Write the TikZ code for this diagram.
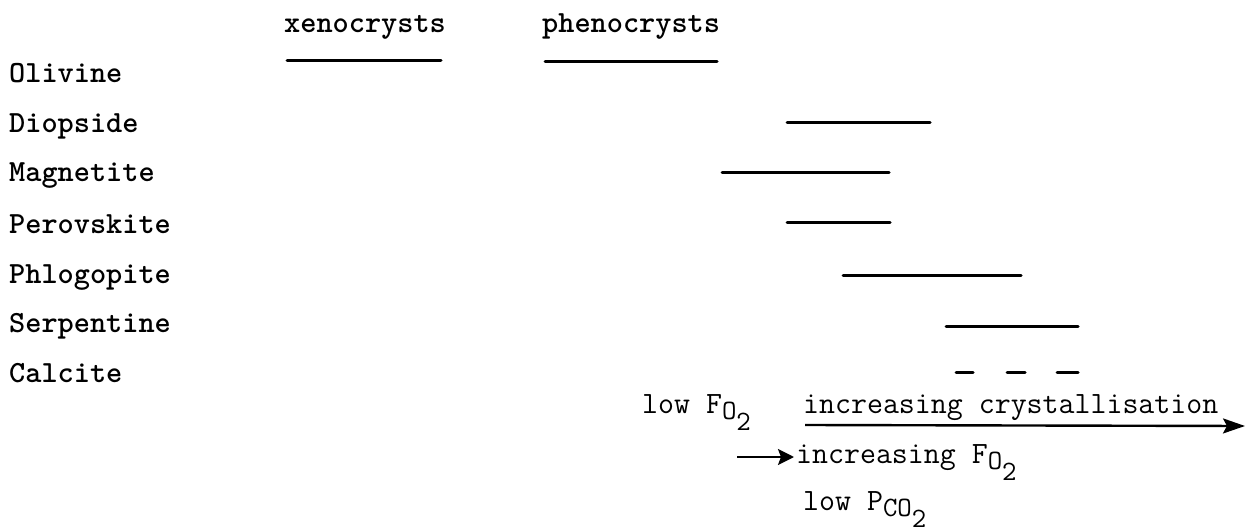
\documentclass[tikz,border=0pt]{standalone}
\usepackage{fontspec}
\newfontfamily\monobold{lmmonolt10-bold.otf}
\usetikzlibrary{arrows.meta}
\newcommand{\chemsub}[2]{\raisebox{-6pt}{{\fontsize{28}{30}\selectfont #1}\raisebox{-11pt}{{\fontsize{28}{30}\selectfont #2}}}}
\tikzset{
  label/.style={anchor=base west, inner sep=0pt, font=\monobold\fontsize{30.8}{33}\selectfont},
  note/.style={anchor=base west, inner sep=0pt, font=\ttfamily\fontsize{31}{33}\selectfont},
  bar/.style={line width=3pt, line cap=round},
  flow/.style={line width=2.4pt, -{Stealth[length=22pt,width=15pt,inset=4pt]}},
  smallflow/.style={line width=2.4pt, -{Stealth[length=16pt,width=16pt,inset=3pt]}}
}
\begin{document}
\begin{tikzpicture}[x=1pt,y=-1pt]
\useasboundingbox (0,0) rectangle (1245,532);
% column headings
\node[label] (xeno) at (284,33) {xenocrysts};
\node[label] (pheno) at (542,33) {phenocrysts};
% minerals
\node[label] (ol) at (9,83) {Olivine};
\node[label] (di) at (9,132) {Diopside};
\node[label] (mt) at (9,182) {Magnetite};
\node[label] (pv) at (9,233) {Perovskite};
\node[label] (ph) at (9,283) {Phlogopite};
\node[label] (sp) at (9,332) {Serpentine};
\node[label] (cc) at (9,382) {Calcite};
% bars
\draw[bar] (287,61) -- (441,61);
\draw[bar] (545,62) -- (717,62);
\draw[bar] (787,123) -- (930,123);
\draw[bar] (722,172) -- (889,172);
\draw[bar] (787,222) -- (890,222);
\draw[bar] (843,275) -- (1021,275);
\draw[bar] (946,326) -- (1078,326);
\draw[bar] (956,372) -- (973,372);
\draw[bar] (1007,372) -- (1025,372);
\draw[bar] (1057,372) -- (1078,372);
% bottom notes
\node[note] (lowfo) at (642,413) {low F\chemsub{O}{2}};
\node[note] (cryst) at (803,413) {increasing crystallisation};
\node[note] (incfo) at (796,463) {increasing F\chemsub{O}{2}};
\node[note] (lowp) at (803,510) {low P\chemsub{CO}{2}};
\coordinate (a1) at (805,425);
\coordinate (a2) at (1245,426);
\draw[flow] (a1) -- (a2);
\coordinate (b1) at (737,457);
\coordinate (b2) at (794,457);
\draw[smallflow] (b1) -- (b2);
\end{tikzpicture}
\end{document}
